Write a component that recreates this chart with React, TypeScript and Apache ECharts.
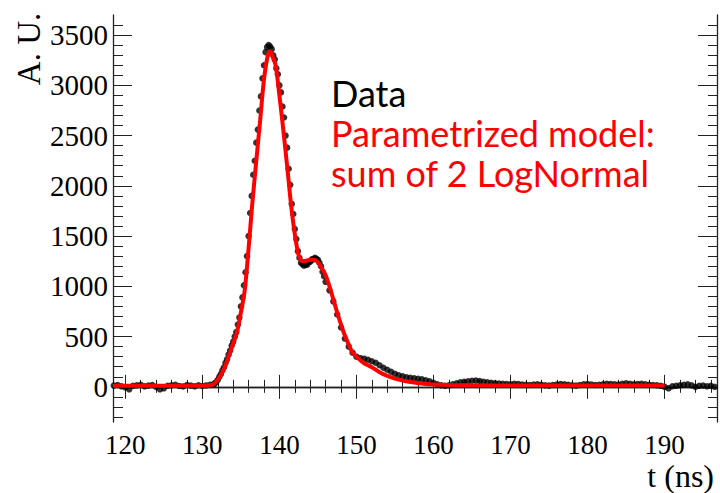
import React, { useEffect, useRef } from "react";
import * as echarts from "echarts";

// Measured data (A. U.) on regular time grids (ns)
const dataA_start = 118.5;
const dataA_step = 0.5;
const dataA = [
  12, 18, 5, -5, -25, 10, 15, 20, 5, 12, 18, 0, -25, -15, 10, 15, 20, 8, 4, 18,
  12, 5, 16, 8, 14, 20, 30,
];

const dataB_start = 131.6;
const dataB_step = 0.2;
const dataB = [
  32, 48, 70, 100, 128, 165, 195, 240, 275, 322,
  362, 410, 450, 500, 545, 620, 690, 800, 890, 1010,
  1140, 1300, 1500, 1730, 1900, 2110, 2250, 2430, 2560, 2750,
  2890, 3070, 3200, 3330, 3380, 3400, 3385, 3360, 3300, 3260,
  3170, 3110, 3000, 2930, 2790, 2680, 2500, 2380, 2170, 2010,
  1820, 1720, 1570, 1470, 1350, 1285, 1235, 1220, 1205, 1215,
  1215, 1240, 1245, 1270, 1268, 1285, 1275, 1265, 1235, 1200,
  1145, 1100, 1045,
];

const dataC_start = 146.5;
const dataC_step = 0.5;
const dataC = [
  960, 850, 720, 590, 480, 400, 340, 300, 285, 280,
  270, 255, 240, 215, 190, 170, 150, 130, 115, 105,
  95, 90, 85, 80, 75, 65, 55, 40, 25, 15,
  10, 15, 25, 35, 45, 50, 55, 60, 62, 58,
  50, 45, 40, 35, 32, 30,
  28, 25, 30, 27, 22, 20, 18, 22, 25, 20,
  15, 12, 18, 22, 28, 25, 20, 15, 12, 18,
  25, 28, 22, 18, 20, 25, 30, 28, 25, 22,
  30, 35, 30, 25, 28, 30, 25, 20, 18, 15,
  10, 0, -15, 5, 10, 15, 20, 25, 15, 0,
  10, 12, 5, 10, 0,
];

// Parametrized model: sum of 2 LogNormal
const modelT = [
  118.4, 125, 130, 131, 131.5, 132, 132.5, 133, 133.5, 134, 134.5, 135, 135.5,
  136, 136.5, 137, 137.5, 138, 138.5, 138.8, 139, 139.5, 140, 140.5, 141, 141.5,
  142, 142.5, 143, 143.5, 144, 144.5, 145, 145.5, 146, 146.5, 147, 147.5, 148,
  148.5, 149, 149.5, 150, 150.5, 151, 151.5, 152, 153, 154, 155, 156, 157, 158,
  159, 160, 162, 165, 170, 175, 180, 185, 190,
];
const modelV = [
  10, 10, 10, 15, 30, 70, 130, 210, 320, 430, 545, 740, 960,
  1380, 1840, 2250, 2650, 3060, 3300, 3340, 3310, 3200, 2900, 2560, 2200, 1820,
  1520, 1310, 1250, 1255, 1265, 1265, 1240, 1180, 1110, 1000, 870, 740, 620,
  510, 420, 340, 300, 265, 235, 215, 195, 145, 108, 82, 62, 48, 38,
  28, 22, 17, 15, 14, 13, 13, 13, 13,
];

// Axis ranges and ticks
const xMin = 118.4;
const xMax = 196.8;
const yMin = -350;
const yMax = 3700;
const xMajorTicks = [120, 130, 140, 150, 160, 170, 180, 190];
const xMinorTicks = [
  120, 122, 124, 126, 128, 130, 132, 134, 136, 138, 140, 142, 144, 146, 148,
  150, 152, 154, 156, 158, 160, 162, 164, 166, 168, 170, 172, 174, 176, 178,
  180, 182, 184, 186, 188, 190, 192, 194, 196,
];
const yMajorTicks = [0, 500, 1000, 1500, 2000, 2500, 3000, 3500];
const yMinorTicks = [
  -300, -200, -100, 0, 100, 200, 300, 400, 500, 600, 700, 800, 900, 1000,
  1100, 1200, 1300, 1400, 1500, 1600, 1700, 1800, 1900, 2000, 2100, 2200,
  2300, 2400, 2500, 2600, 2700, 2800, 2900, 3000, 3100, 3200, 3300, 3400,
  3500, 3600,
];

function build(start: number, step: number, vals: number[]) {
  return vals.map((v, i) => [Math.round((start + i * step) * 100) / 100, v]);
}

export default function App() {
  const ref = useRef<HTMLDivElement>(null);
  useEffect(() => {
    if (!ref.current) return;
    const chart = echarts.init(ref.current, undefined, { renderer: "svg" });
    const serif = "'Liberation Serif', 'Times New Roman', serif";
    const frame = { show: true, lineStyle: { color: "#222", width: 1.3 } };
    const tickStyle = { color: "#222", width: 1 };
    const xCommon = { type: "value" as const, min: xMin, max: xMax, splitLine: { show: false } };
    const yCommon = { type: "value" as const, min: yMin, max: yMax, splitLine: { show: false } };
    const mkX = (pos: string, ticks: number[], len: number, line: boolean, labels: boolean) => ({
      ...xCommon,
      position: pos,
      axisLine: line ? frame : { show: false },
      axisTick: { show: true, inside: true, length: len, lineStyle: tickStyle, customValues: ticks },
      axisLabel: labels
        ? {
            show: true, fontSize: 27, fontFamily: serif, color: "#000", margin: 9,
            customValues: ticks, formatter: (v: number) => String(v),
          }
        : { show: false },
    });
    const mkY = (pos: string, ticks: number[], len: number, line: boolean, labels: boolean) => ({
      ...yCommon,
      position: pos,
      axisLine: line ? frame : { show: false },
      axisTick: { show: true, inside: true, length: len, lineStyle: tickStyle, customValues: ticks },
      axisLabel: labels
        ? {
            show: true, fontSize: 29, fontFamily: serif, color: "#000", margin: 5,
            customValues: ticks, formatter: (v: number) => String(v),
          }
        : { show: false },
    });
    const points = [
      ...build(dataA_start, dataA_step, dataA),
      ...build(dataB_start, dataB_step, dataB),
      ...build(dataC_start, dataC_step, dataC),
    ];
    const model = modelT.map((t, i) => [t, modelV[i]]);
    chart.setOption({
      animation: false,
      backgroundColor: "#fff",
      grid: { left: 113, top: 15, right: 3, bottom: 71, containLabel: false },
      xAxis: [
        mkX("bottom", xMajorTicks, 12, true, true),
        mkX("bottom", xMinorTicks, 7, false, false),
        mkX("top", xMajorTicks, 12, true, false),
        mkX("top", xMinorTicks, 6, false, false),
      ],
      yAxis: [
        mkY("left", yMajorTicks, 19, true, true),
        mkY("left", yMinorTicks, 10, false, false),
        mkY("right", yMajorTicks, 19, true, false),
        mkY("right", yMinorTicks, 9, false, false),
      ],
      series: [
        {
          name: "Data", type: "scatter", xAxisIndex: 0, yAxisIndex: 0,
          data: points, symbol: "circle", symbolSize: 6.5,
          itemStyle: { color: "#000" }, z: 2,
        },
        {
          name: "Parametrized model", type: "line", xAxisIndex: 0, yAxisIndex: 0,
          data: model, showSymbol: false, smooth: 0.3,
          lineStyle: { color: "#ff0000", width: 4 }, z: 3,
        },
      ],
      graphic: [
        {
          type: "text", x: 29, y: 49, rotation: Math.PI / 2,
          style: { text: "A. U.", font: `33px ${serif}`, fill: "#000", align: "center", verticalAlign: "middle" },
        },
        {
          type: "text", x: 714, y: 476,
          style: { text: "t (ns)", font: `32px ${serif}`, lineHeight: 30, fill: "#000", align: "right", verticalAlign: "middle" },
        },
        {
          type: "text", x: 331, y: 93,
          style: { text: "Data", font: '36px "Lato"', lineHeight: 38, fill: "#000", align: "left", verticalAlign: "middle" },
        },
        {
          type: "text", x: 331, y: 133,
          style: { text: "Parametrized model:", font: '36px "Lato"', lineHeight: 38, fill: "#ff0000", align: "left", verticalAlign: "middle" },
        },
        {
          type: "text", x: 331, y: 173,
          style: { text: "sum of 2 LogNormal", font: '36px "Lato"', lineHeight: 38, fill: "#ff0000", align: "left", verticalAlign: "middle" },
        },
      ],
    });
    return () => chart.dispose();
  }, []);
  return (
    <div
      ref={ref}
      style={{ position: "fixed", left: 0, top: 0, width: 720, height: 493 }}
    />
  );
}
